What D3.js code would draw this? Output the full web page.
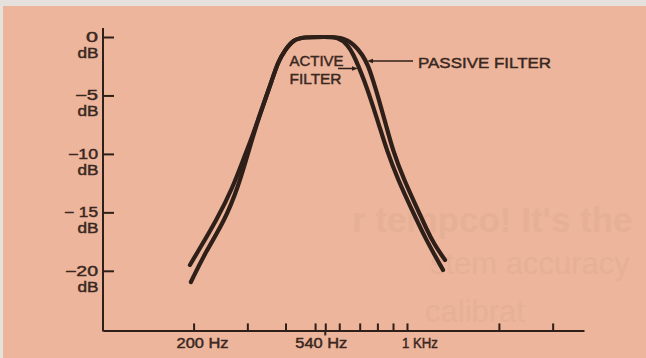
<!DOCTYPE html>
<html>
<head>
<meta charset="utf-8">
<script src="https://cdn.jsdelivr.net/npm/d3@7"></script>
<style>
  html, body { margin: 0; padding: 0; background: #e6e1dc; }
  svg { display: block; }
  text { font-family: "Liberation Sans", Arial, sans-serif; fill: #3a2720; }
  .lbl { stroke: #3a2720; stroke-width: 0.45px; }
</style>
</head>
<body>
<svg id="chart" width="646" height="358"></svg>
<script>
// Frequency response of two band-pass filters centred on 540 Hz
const activeHz  = [196, 218, 253.5, 279.6, 297, 310.7, 325.1, 342.7, 361.3, 378, 398.5, 423.3, 456.5, 540, 594.3, 641, 668.2, 691.2, 723.2, 762.4, 809.8, 858.2, 934.6, 1038.5, 1145.5, 1312.4];
const activeDb  = [-20.96, -18.48, -15.65, -12.83, -10.52, -8.81, -7.1, -5.39, -3.68, -2.14, -1.11, -0.26, 0, 0, 0, -0.68, -1.54, -2.4, -3.68, -5.39, -7.53, -9.67, -12.23, -14.8, -17.19, -19.93];
const passiveHz = [194.6, 205.2, 238.1, 269.2, 290.3, 308.4, 325.1, 342.7, 361.3, 378, 398.5, 423.3, 456.5, 540, 612.5, 675.5, 714.9, 745.2, 773.8, 809.8, 853.7, 897.9, 977.7, 1086.6, 1154.2, 1226, 1332.3];
const passiveDb = [-19.5, -18.48, -15.65, -12.83, -10.52, -8.81, -7.1, -5.39, -3.68, -2.14, -1.11, -0.26, 0, 0, 0, -0.68, -1.54, -2.4, -3.68, -5.39, -7.53, -9.67, -12.23, -14.8, -16.34, -17.71, -19.08];

// Axis ticks and labels
const dbTicks      = [0, -5, -10, -15, -20];
const dbTickLabels = ["0", "\u22125", "\u221210", "\u2212 15", "\u221220"];
const hzTicks      = [200, 300, 400, 500, 540, 600, 700, 800, 900, 1000, 2000, 3000];
const hzLabelAt    = [200, 540, 1000];
const hzLabels     = ["200 Hz", "540 Hz", "1 KHz"];
const seriesNames  = ["ACTIVE", "FILTER", "PASSIVE FILTER"];

const ink = "#2f1f19";
const svg = d3.select("#chart");

// paper
svg.append("rect").attr("x", 3).attr("y", 6).attr("width", 643).attr("height", 352).attr("fill", "#ecb59c");

// faint print from the reverse of the sheet
const ghost = svg.append("g").attr("opacity", 0.028);
ghost.append("text").attr("x", 352).attr("y", 232).attr("font-size", 35).attr("font-weight", "bold")
  .style("fill", ink).text("r tempco! It's the");
ghost.append("text").attr("x", 430).attr("y", 274).attr("font-size", 31)
  .style("fill", ink).text("stem accuracy");
ghost.append("text").attr("x", 425).attr("y", 322).attr("font-size", 31)
  .style("fill", ink).text("calibrat");

// scales: log frequency, linear dB
const x = d3.scaleLog().domain([101, 3800]).range([103, 584]);
const y = d3.scaleLinear().domain([0, -20]).range([37, 270.8]);
const dbTop = 0.77, dbFloor = -25.1;

// frequency axis
const xAxis = d3.axisTop(x).tickValues(hzTicks).tickSizeInner(7).tickSizeOuter(0).tickFormat("");
const gx = svg.append("g").attr("transform", `translate(0,${y(dbFloor)})`).call(xAxis);
gx.select(".domain").attr("stroke", ink).attr("stroke-width", 2);
gx.selectAll(".tick line").attr("stroke", ink).attr("stroke-width", 2);
// centre frequency tick crosses the axis
svg.append("line").attr("x1", x(540)).attr("x2", x(540))
  .attr("y1", y(dbFloor)).attr("y2", y(dbFloor) + 5).attr("stroke", ink).attr("stroke-width", 2);

// dB axis
const yAxis = d3.axisRight(y).tickValues(dbTicks).tickSizeInner(11).tickSizeOuter(0).tickFormat("");
const gy = svg.append("g").attr("transform", `translate(${x(101)},0)`).call(yAxis);
gy.select(".domain").remove();
gy.selectAll(".tick line").attr("stroke", ink).attr("stroke-width", 2);
svg.append("line").attr("x1", x(101)).attr("x2", x(101))
  .attr("y1", y(dbTop)).attr("y2", y(dbFloor) + 1).attr("stroke", ink).attr("stroke-width", 2);

// dB labels, two lines each
const valueWidths = [12, 23, 30, 34, 33];
dbTicks.forEach((d, i) => {
  svg.append("text").attr("class", "lbl").attr("x", 98).attr("y", y(d) + 5).attr("text-anchor", "end")
    .attr("font-size", 14).attr("textLength", valueWidths[i]).attr("lengthAdjust", "spacingAndGlyphs")
    .text(dbTickLabels[i]);
  svg.append("text").attr("class", "lbl").attr("x", 98.5).attr("y", y(d) + 21).attr("text-anchor", "end")
    .attr("font-size", 14.5).attr("textLength", 21).attr("lengthAdjust", "spacingAndGlyphs")
    .text("dB");
});

// frequency labels
const hzOffsets = [-17, -30, -5];
const hzWidths = [52, 52, 36];
hzLabelAt.forEach((f, i) => {
  svg.append("text").attr("class", "lbl").attr("x", x(f) + hzOffsets[i]).attr("y", 348)
    .attr("font-size", 14).attr("textLength", hzWidths[i]).attr("lengthAdjust", "spacingAndGlyphs")
    .text(hzLabels[i]);
});

// response curves
const line = d3.line().x(d => x(d[0])).y(d => y(d[1])).curve(d3.curveBasis);
const passive = passiveHz.map((f, i) => [f, passiveDb[i]]);
const active = activeHz.map((f, i) => [f, activeDb[i]]);
[passive, active].forEach(s => {
  svg.append("path").attr("d", line(s)).attr("fill", "none").attr("stroke", ink)
    .attr("stroke-width", 4.2).attr("stroke-linecap", "round").attr("stroke-linejoin", "round");
});

// series labels with pointer arrows
svg.append("text").attr("class", "lbl").attr("x", 289.5).attr("y", 65.7).attr("font-size", 15)
  .attr("textLength", 54).attr("lengthAdjust", "spacingAndGlyphs").text(seriesNames[0]);
svg.append("text").attr("class", "lbl").attr("x", 289.5).attr("y", 84.3).attr("font-size", 15)
  .attr("textLength", 52).attr("lengthAdjust", "spacingAndGlyphs").text(seriesNames[1]);
svg.append("text").attr("class", "lbl").attr("x", 418).attr("y", 67.5).attr("font-size", 15)
  .attr("textLength", 133).attr("lengthAdjust", "spacingAndGlyphs").text(seriesNames[2]);

function arrow(x1, x2, yy) {
  const dir = Math.sign(x2 - x1);
  svg.append("line").attr("x1", x1).attr("x2", x2 - dir * 4).attr("y1", yy).attr("y2", yy)
    .attr("stroke", ink).attr("stroke-width", 1.5);
  svg.append("path")
    .attr("d", `M${x2},${yy} L${x2 - dir * 6},${yy - 2.2} L${x2 - dir * 6},${yy + 2.2} Z`)
    .attr("fill", ink);
}
arrow(338, 358, 68.5);
arrow(413, 367, 61);
</script>
</body>
</html>
